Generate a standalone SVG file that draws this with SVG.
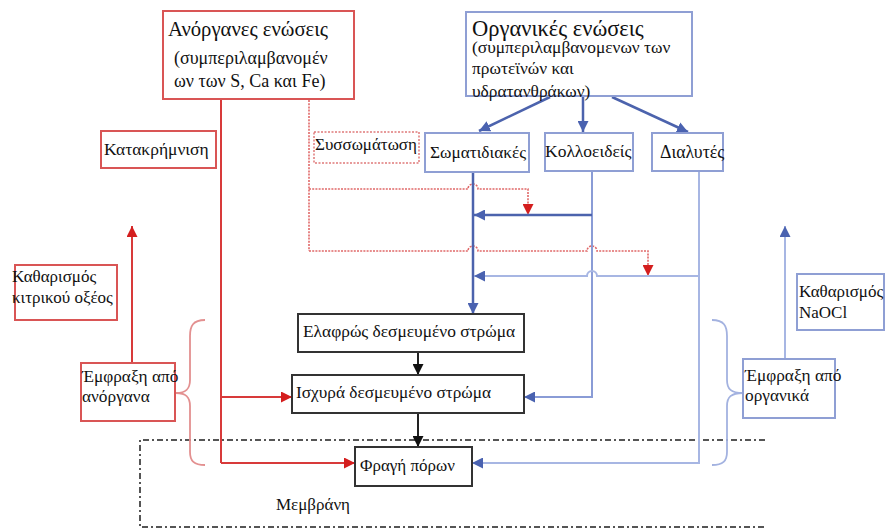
<svg xmlns="http://www.w3.org/2000/svg" width="886" height="529" viewBox="0 0 886 529">
  <defs>
    <style>
      text { font-family: "Liberation Serif", "DejaVu Serif", serif; fill: #111; }
      .redbox { fill: #fff; stroke: #d95555; stroke-width: 2; }
      .redbox-dash { fill: #fff; stroke: #e07a7a; stroke-width: 1.5; stroke-dasharray: 2 1.5; }
      .bluebox { fill: #fff; stroke: #8f9fd4; stroke-width: 2; }
      .blackbox { fill: #fff; stroke: #333; stroke-width: 2; }
      .red { fill: none; stroke: #d83a3a; stroke-width: 2; }
      .red-dot { fill: none; stroke: #e06868; stroke-width: 1.6; stroke-dasharray: 2 1.2; }
      .blue-dark { fill: none; stroke: #4c63ad; stroke-width: 2.5; }
      .blue-mid { fill: none; stroke: #8a9cd6; stroke-width: 2; }
      .blue-light { fill: none; stroke: #a7b6e3; stroke-width: 2; }
      .black { fill: none; stroke: #222; stroke-width: 2; }
      .brace-red { fill: none; stroke: #e39090; stroke-width: 1.8; }
      .brace-blue { fill: none; stroke: #a3b2e0; stroke-width: 1.8; }
      .membrane { fill: none; stroke: #555; stroke-width: 2; stroke-dasharray: 6 3 2 3; }
    </style>
    <marker id="arr-red" viewBox="0 0 10 10" refX="10" refY="5" markerWidth="11" markerHeight="11" markerUnits="userSpaceOnUse" orient="auto">
      <path d="M0,0 L10,5 L0,10 Z" fill="#d41e1e"/>
    </marker>
    <marker id="arr-blue" viewBox="0 0 10 10" refX="10" refY="5" markerWidth="11" markerHeight="11" markerUnits="userSpaceOnUse" orient="auto">
      <path d="M0,0 L10,5 L0,10 Z" fill="#4a62b0"/>
    </marker>
    <marker id="arr-black" viewBox="0 0 10 10" refX="10" refY="5" markerWidth="11" markerHeight="11" markerUnits="userSpaceOnUse" orient="auto">
      <path d="M0,0 L10,5 L0,10 Z" fill="#111"/>
    </marker>
  </defs>

  <rect width="886" height="529" fill="#fff"/>

  <!-- membrane outline -->
  <g id="membrane">
    <path class="membrane" d="M765,440 L140,440 L140,527 L765,527"/>
    <text x="276" y="510" font-size="17">Μεμβράνη</text>
  </g>

  <!-- braces -->
  <g id="braces">
    <path class="brace-red" d="M205,320 C193,320 190,326 190,336 L190,380 C190,389 186,393 176,393 C186,393 190,397 190,406 L190,452 C190,461 194,465 205,465"/>
    <path class="brace-blue" d="M712,320 C724,320 727,326 727,336 L727,380 C727,389 731,393 743,393 C731,393 727,397 727,406 L727,452 C727,461 723,465 712,465"/>
  </g>

  <!-- connectors -->
  <g id="connectors">
    <!-- inorganic: solid red -->
    <path class="red" d="M221,100 L221,463"/>
    <path class="red" d="M221,397 L292,397" marker-end="url(#arr-red)"/>
    <path class="red" d="M221,463 L355,463" marker-end="url(#arr-red)"/>
    <path class="red" d="M132,363 L132,226" marker-end="url(#arr-red)"/>
    <!-- inorganic: dotted red with hops -->
    <path class="red-dot" d="M309,100 L309,251"/>
    <path class="red-dot" d="M309,189 L468,189 A5,5 0 0 1 478,189 L528,189 L528,215" marker-end="url(#arr-red)"/>
    <path class="red-dot" d="M309,251 L468,251 A5,5 0 0 1 478,251 L587,251 A5,5 0 0 1 597,251 L648,251 L648,276" marker-end="url(#arr-red)"/>

    <!-- organic box to the three classes -->
    <path class="blue-dark" d="M550,97 L479,131" marker-end="url(#arr-blue)"/>
    <path class="blue-dark" d="M583,97 L583,132" marker-end="url(#arr-blue)"/>
    <path class="blue-dark" d="M612,97 L688,132" marker-end="url(#arr-blue)"/>

    <!-- particulate -->
    <path class="blue-dark" d="M473,172 L473,314" marker-end="url(#arr-blue)"/>
    <!-- colloidal -->
    <path class="blue-mid" d="M592,171 L592,397 L524,397" marker-end="url(#arr-blue)"/>
    <path class="blue-dark" d="M592,215 L474,215" marker-end="url(#arr-blue)"/>
    <!-- dissolved -->
    <path class="blue-light" d="M699,171 L699,463 L472,463" marker-end="url(#arr-blue)"/>
    <path class="blue-light" d="M699,276 L597,276 A5,5 0 0 0 587,276 L474,276" marker-end="url(#arr-blue)"/>
    <path class="blue-light" d="M785,360 L785,226" marker-end="url(#arr-blue)"/>

    <!-- layer sequence -->
    <path class="black" d="M418,352 L418,375" marker-end="url(#arr-black)"/>
    <path class="black" d="M418,413 L418,447" marker-end="url(#arr-black)"/>
  </g>

  <g id="inorganic">
    <rect class="redbox" x="163" y="11" width="191" height="88"/>
    <text x="168" y="36" font-size="20.7">Ανόργανες ενώσεις</text>
    <text x="174" y="64" font-size="18">(συμπεριλαμβανομέν</text>
    <text x="174" y="87" font-size="18">ων των S, Ca και Fe)</text>
  </g>

  <g id="organic">
    <rect class="bluebox" x="466" y="12" width="226" height="84"/>
    <text x="472" y="36" font-size="22.5">Οργανικές ενώσεις</text>
    <text x="472" y="53" font-size="17.4">(συμπεριλαμβανομενων των</text>
    <text x="472" y="74" font-size="17.4">πρωτεϊνών και</text>
    <text x="472" y="97" font-size="17.4">υδρατανθράκων)</text>
  </g>

  <g id="precipitation">
    <rect class="redbox" x="101" y="131" width="115" height="37"/>
    <text x="104" y="155" font-size="17.5">Κατακρήμνιση</text>
  </g>

  <g id="aggregation">
    <rect class="redbox-dash" x="314" y="132" width="105" height="31"/>
    <text x="315" y="150" font-size="17">Συσσωμάτωση</text>
  </g>

  <g id="particulate">
    <rect class="bluebox" x="425" y="133" width="104" height="39"/>
    <text x="430" y="158" font-size="17.3">Σωματιδιακές</text>
  </g>

  <g id="colloidal">
    <rect class="bluebox" x="545" y="133" width="88" height="38"/>
    <text x="545" y="157" font-size="17.5">Κολλοειδείς</text>
  </g>

  <g id="dissolved">
    <rect class="bluebox" x="652" y="133" width="71" height="38"/>
    <text x="660" y="158" font-size="17.8">Διαλυτές</text>
  </g>

  <g id="citric-cleaning">
    <rect class="redbox" x="15" y="265" width="102" height="55"/>
    <text x="12" y="282" font-size="17">Καθαρισμός</text>
    <text x="12" y="303" font-size="17">κιτρικού οξέος</text>
  </g>

  <g id="inorganic-fouling">
    <rect class="redbox" x="81" y="363" width="94" height="58"/>
    <text x="82" y="382" font-size="17.3">Έμφραξη από</text>
    <text x="82" y="402" font-size="17.3">ανόργανα</text>
  </g>

  <g id="naocl-cleaning">
    <rect class="bluebox" x="797" y="274" width="87" height="56"/>
    <text x="799" y="297" font-size="17">Καθαρισμός</text>
    <text x="799" y="318" font-size="17">NaOCl</text>
  </g>

  <g id="organic-fouling">
    <rect class="bluebox" x="743" y="359" width="92" height="59"/>
    <text x="745" y="381" font-size="17.3">Έμφραξη από</text>
    <text x="745" y="401" font-size="17.3">οργανικά</text>
  </g>

  <g id="loose-layer">
    <rect class="blackbox" x="298" y="314" width="226" height="38"/>
    <text x="303" y="337" font-size="17.4">Ελαφρώς δεσμευμένο στρώμα</text>
  </g>

  <g id="tight-layer">
    <rect class="blackbox" x="292" y="375" width="232" height="38"/>
    <text x="296" y="398" font-size="17.3">Ισχυρά δεσμευμένο στρώμα</text>
  </g>

  <g id="pore-blocking">
    <rect class="blackbox" x="355" y="447" width="117" height="39"/>
    <text x="360" y="471" font-size="17">Φραγή πόρων</text>
  </g>
</svg>
